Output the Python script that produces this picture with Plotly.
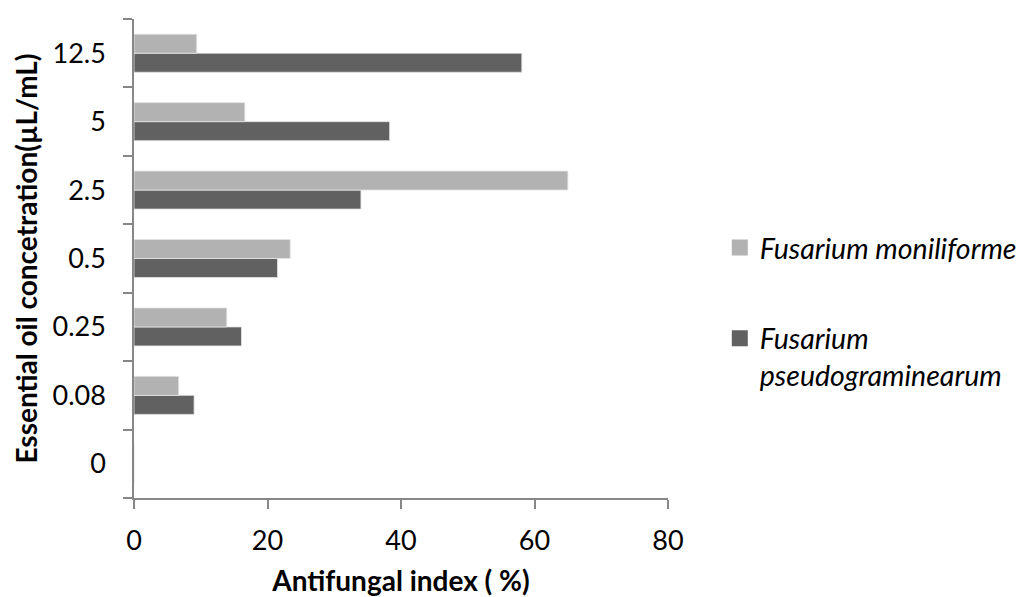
import plotly.graph_objects as go

# Concentrations of essential oil (µL/mL), bottom to top
concentrations = ["0", "0.08", "0.25", "0.5", "2.5", "5", "12.5"]

# Antifungal index (%) for each species
moniliforme = [0, 6.7, 13.9, 23.4, 65.0, 16.6, 9.4]
pseudograminearum = [0, 9.0, 16.1, 21.5, 34.0, 38.3, 58.1]

x_ticks = [0, 20, 40, 60, 80]

LIGHT = "#b2b2b2"
DARK = "#616161"
AXIS = "#878787"
FONT = "Lato"

fig = go.Figure()

# Dark bar drawn first so it sits below the light one inside each group
fig.add_trace(go.Bar(
    y=concentrations, x=pseudograminearum, orientation="h",
    marker=dict(color=DARK, line=dict(color="#e4e4e4", width=0.8)),
    showlegend=False,
))
fig.add_trace(go.Bar(
    y=concentrations, x=moniliforme, orientation="h",
    marker=dict(color=LIGHT, line=dict(color="#e4e4e4", width=0.8)),
    showlegend=False,
))

# Legend entries with larger square swatches
fig.add_trace(go.Scatter(
    x=[None], y=[None], mode="markers", name="<i>Fusarium moniliforme</i>",
    marker=dict(symbol="square", size=17, color=LIGHT), legend="legend",
))
fig.add_trace(go.Scatter(
    x=[None], y=[None], mode="markers", name="<i>Fusarium<br>pseudograminearum</i>",
    marker=dict(symbol="square", size=17, color=DARK), legend="legend2",
))

legend_common = dict(
    xanchor="left", yanchor="middle", valign="top",
    font=dict(family=FONT, size=28.5, color="#000000"),
    bgcolor="rgba(0,0,0,0)", borderwidth=0,
)

fig.update_layout(
    width=1024, height=597,
    margin=dict(l=134, r=356, t=19, b=99, autoexpand=False),
    paper_bgcolor="white", plot_bgcolor="white",
    barmode="group", bargap=0.444, bargroupgap=0,
    font=dict(family=FONT, size=27, color="#000000"),
    legend=dict(x=1.097, y=0.522, **legend_common),
    legend2=dict(x=1.097, y=0.294, **legend_common),
    xaxis=dict(
        range=[0, 80], tickvals=x_ticks, ticktext=[str(v) for v in x_ticks],
        automargin=False,
        showgrid=False, zeroline=False,
        showline=True, linecolor=AXIS, linewidth=1.5,
        ticks="outside", ticklen=9, tickcolor=AXIS, tickwidth=1.5,
        ticklabelstandoff=9,
        tickfont=dict(family=FONT, size=27),
        title=dict(text="<b>Antifungal index ( %)</b>", standoff=17,
                   font=dict(family=FONT, size=28)),
    ),
    yaxis=dict(
        type="category", categoryorder="array", categoryarray=concentrations,
        range=[-0.5, 6.5], automargin=False,
        showgrid=False, zeroline=False,
        showline=True, linecolor=AXIS, linewidth=1.5,
        ticks="outside", tickson="boundaries", ticklen=9,
        tickcolor=AXIS, tickwidth=1.5,
        ticklabelstandoff=21,
        tickfont=dict(family=FONT, size=27),
        title=dict(text="<b>Essential oil concetration(µL/mL)</b>", standoff=7,
                   font=dict(family=FONT, size=28)),
    ),
)

fig.write_html("out.html")
